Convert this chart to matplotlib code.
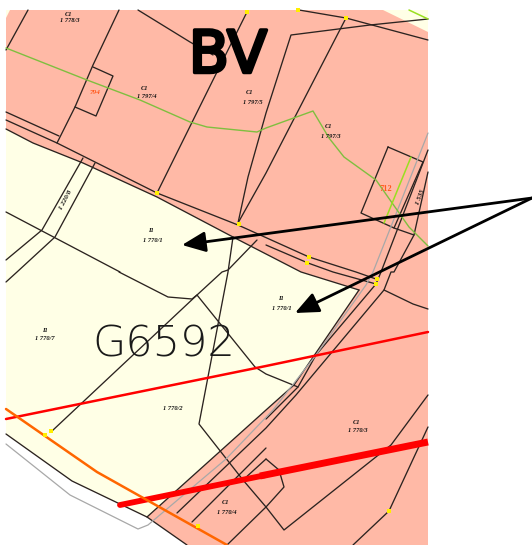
import matplotlib
matplotlib.use('Agg')
import matplotlib.pyplot as plt
import matplotlib.patheffects as pe
from matplotlib.patches import Polygon

map_box = [(6, 10), (428, 10), (428, 545), (6, 545)]
cream_area = [(6, 129), (33, 143), (83, 163), (157, 197), (233, 237), (301, 272), (359, 290),
              (294, 385), (266, 410), (147, 517), (72, 481), (6, 434)]
white_area = [(6, 434), (72, 481), (147, 517), (187, 545), (6, 545)]
cream_top = [(383, 10), (428, 10), (428, 32)]
cream_corner = [(6, 10), (10, 10), (6, 18)]

dark_lines = [
    [(28, 10), (6, 50)],
    [(119, 10), (93, 65), (75, 107), (57, 143)],
    [(93, 67), (113, 76), (96, 116), (75, 107)],
    [(138, 10), (190, 42), (213, 55)],
    [(247, 12), (213, 80), (157, 193)],
    [(6, 112), (59, 136)],
    [(6, 120), (57, 143), (157, 193), (238, 225), (309, 257), (356, 272), (376, 279)],
    [(6, 129), (33, 143), (83, 163), (157, 197), (233, 237), (301, 272), (359, 290)],
    [(266, 245), (308, 263), (333, 272), (376, 284)],
    [(299, 10), (346, 18), (428, 40)],
    [(428, 19), (370, 25), (291, 35), (266, 113), (248, 177), (238, 223)],
    [(346, 18), (266, 173), (238, 223)],
    [(388, 147), (361, 213), (394, 228), (423, 162), (388, 147)],
    [(428, 150), (381, 272), (376, 284), (316, 355), (298, 387), (266, 419)],
    [(428, 172), (414, 235), (394, 272), (391, 272), (384, 290), (296, 395), (266, 428), (177, 513)],
    [(414, 235), (394, 228)],
    [(384, 290), (413, 304), (428, 309)],
    [(233, 237), (228, 272), (199, 424), (243, 480)],
    [(257, 240), (228, 270), (222, 272), (197, 295), (52, 431)],
    [(119, 272), (168, 297), (192, 299), (197, 295), (255, 367), (266, 374), (298, 387)],
    [(83, 158), (42, 230), (6, 260)],
    [(95, 163), (55, 237), (17, 272), (6, 282)],
    [(6, 212), (120, 272)],
    [(359, 290), (294, 385), (266, 410), (147, 517)],
    [(6, 434), (72, 481), (147, 517), (187, 545)],
    [(192, 522), (255, 459), (266, 448)],
    [(266, 459), (279, 470), (284, 487), (266, 507), (284, 530), (391, 445), (428, 395)],
    [(266, 459), (243, 480), (266, 507), (227, 545)],
    [(353, 545), (389, 511), (428, 427)],
]
grey_line = [(6, 444), (70, 495), (138, 529), (148, 525), (226, 459), (273, 410), (316, 355), (366, 285), (373, 272), (428, 133)]
green_line = [(6, 48), (87, 80), (140, 100), (190, 122), (207, 127), (257, 132), (266, 128), (313, 111),
              (329, 138), (344, 157), (376, 180), (409, 227), (428, 246)]
bright_green_1 = [(411, 157), (384, 223)]
bright_green_2 = [(409, 10), (428, 19)]
thin_red = [(6, 419), (266, 366), (428, 332)]
thick_red_left = [(120, 505), (266, 475)]
thick_red_right = [(260, 476), (428, 442)]
orange_line = [(6, 409), (97, 472), (227, 545)]

dots_x = [45, 51, 198, 389, 157, 239, 247, 346, 298, 309, 307, 377, 376]
dots_y = [435, 431, 526, 511, 193, 224, 12, 18, 10, 257, 263, 279, 284]

arrow_start = (532, 198)
arrow_tips = [(182, 245), (295, 313)]

parcel_labels = [
    (69, 14.5, 'C1'), (70, 21, '1 778/3'), (145, 88, 'C1'), (147, 96.5, '1 797/4'),
    (250, 92, 'C1'), (253, 102.5, '1 797/5'), (329, 127, 'C1'), (331, 137, '1 797/3'),
    (151, 231, 'I1'), (153, 240, '1 770/1'), (281, 299, 'I1'), (282, 308, '1 770/1'),
    (45, 330, 'I1'), (45, 339, '1 770/7'), (173, 408, '1 770/2'),
    (226, 502, 'C1'), (227, 512, '1 770/4'), (357, 422, 'C1'), (358, 430.5, '1 770/3'),
]

fig = plt.figure(figsize=(5.32, 5.45), dpi=100)
ax = fig.add_axes([0, 0, 1, 1])
ax.set_xlim(0, 532)
ax.set_ylim(545, 0)
ax.axis('off')

ax.add_patch(Polygon(map_box, fc='#ffb9a6', ec='none', zorder=1))
for area, col in [(cream_area, '#ffffe6'), (white_area, 'white'), (cream_top, '#ffffe6'), (cream_corner, '#ffffe6')]:
    ax.add_patch(Polygon(area, fc=col, ec='none', zorder=2))


def draw(pts, color, lw, z=3, cap='round'):
    ax.plot([p[0] for p in pts], [p[1] for p in pts], color=color, lw=lw, zorder=z,
            solid_capstyle=cap, solid_joinstyle='round')


for pts in dark_lines:
    draw(pts, '#2b2320', 0.95)
draw(grey_line, '#a8a8a8', 0.9)
draw(green_line, '#7fbf3f', 1.0)
draw(bright_green_1, '#9adf20', 1.1)
draw(bright_green_2, '#9adf20', 1.1)
draw(thin_red, '#ff0000', 1.8, 4)
draw(thick_red_left, '#ff0000', 4.2, 4)
draw(thick_red_right, '#ff0000', 5.0, 4, 'butt')
draw(orange_line, '#ff6600', 1.8, 5)
ax.scatter(dots_x, dots_y, s=8, color='#ffee00', marker='s', lw=0, zorder=6)

for x, y, s in parcel_labels:
    ax.text(x, y, s, fontsize=4.6, style='italic', family='Liberation Serif', weight='bold',
            ha='center', va='center', color='#111111', zorder=7)
ax.text(66, 200, '1 220/8', fontsize=5, style='italic', family='Liberation Serif', weight='bold',
        rotation=62, ha='center', va='center', color='#111111', zorder=7)
ax.text(420, 197, '1 535', fontsize=5, style='italic', family='Liberation Serif', weight='bold',
        rotation=70, ha='center', va='center', color='#111111', zorder=7)
ax.text(95, 93, '794', fontsize=5.2, style='italic', family='Liberation Serif', weight='bold',
        ha='center', va='center', color='#ff5a1e', zorder=7)
ax.text(386, 189, '712', fontsize=6, family='Liberation Serif', weight='bold',
        ha='center', va='center', color='#ff5a1e', zorder=7)

ax.text(228, 56, 'BV', fontsize=42, family='Liberation Sans Narrow', ha='center', va='center', color='black',
        zorder=8, path_effects=[pe.withStroke(linewidth=2.5, foreground='black')])
ax.text(164, 344, 'G6592', fontsize=31, family='DejaVu Sans', weight='light', ha='center', va='center',
        color='#1a1a1a', zorder=8)

for tip in arrow_tips:
    ax.annotate('', xy=tip, xytext=arrow_start, zorder=9,
                arrowprops=dict(arrowstyle='-|>,head_length=1.1,head_width=0.48', color='black', lw=2.0,
                                shrinkA=0, shrinkB=0, mutation_scale=13))

fig.savefig('out.png', dpi=100)
